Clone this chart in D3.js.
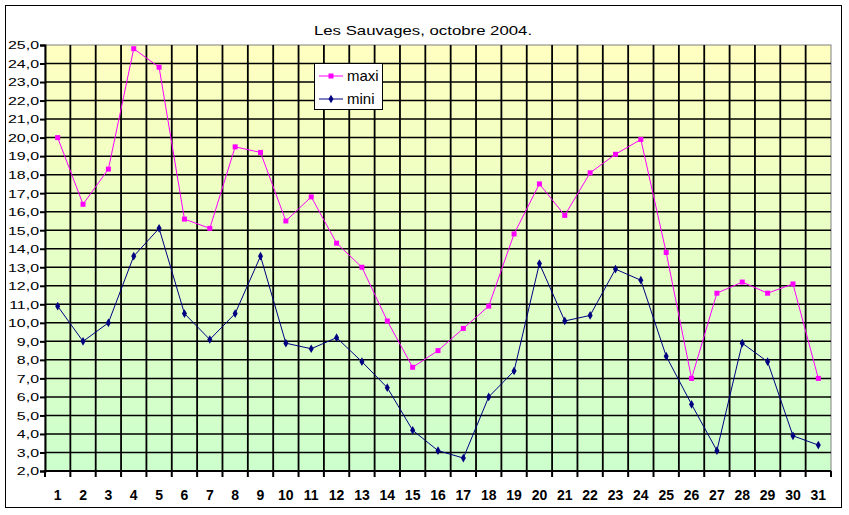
<!DOCTYPE html>
<html>
<head>
<meta charset="utf-8">
<script src="https://cdn.jsdelivr.net/npm/d3@7"></script>
<style>
    body { margin: 0; background: #fff; }
    text { font-family: "Liberation Sans", Arial, sans-serif; fill: #000; }
</style>
</head>
<body>
<div id="chart"></div>
<script>
// data
var days = d3.range(1, 32);
var maxi = [20.0, 16.4, 18.3, 24.8, 23.8, 15.6, 15.1, 19.5, 19.2, 15.5,
            16.8, 14.3, 13.0, 10.1, 7.6, 8.5, 9.7, 10.9, 14.8, 17.5,
            15.8, 18.1, 19.1, 19.9, 13.8, 7.0, 11.6, 12.2, 11.6, 12.1, 7.0];
var mini = [10.9, 9.0, 10.0, 13.6, 15.1, 10.5, 9.1, 10.5, 13.6, 8.9,
            8.6, 9.2, 7.9, 6.5, 4.2, 3.1, 2.7, 6.0, 7.4, 13.2,
            10.1, 10.4, 12.9, 12.3, 8.2, 5.6, 3.1, 8.9, 7.9, 3.9, 3.4];
var yTicks = d3.range(2, 25.01, 1);
var seriesNames = ["maxi", "mini"];
var seriesColors = ["#ff00ff", "#000080"];

var width = 849,
    height = 515;
var plot = {left: 45, top: 45, right: 831, bottom: 471};

const svg = d3.select("#chart").append("svg")
    .attr("width", width)
    .attr("height", height);

// background gradient of the plot area
let defs = svg.append("defs");
let grad = defs.append("linearGradient")
    .attr("id", "bg")
    .attr("x1", 0).attr("y1", 0).attr("x2", 0).attr("y2", 1);
grad.append("stop").attr("offset", "0%").attr("stop-color", "#ffffc0");
grad.append("stop").attr("offset", "100%").attr("stop-color", "#ccffcc");

// outer frame
svg.append("rect")
    .attr("x", 5.5).attr("y", 5.5)
    .attr("width", 836).attr("height", 502)
    .attr("fill", "#fff")
    .attr("stroke", "#000");

const x = d3.scaleBand()
    .domain(days)
    .range([plot.left, plot.right]);

const y = d3.scaleLinear()
    .domain([2, 25])
    .range([plot.bottom, plot.top]);

svg.append("rect")
    .attr("x", plot.left).attr("y", plot.top)
    .attr("width", plot.right - plot.left)
    .attr("height", plot.bottom - plot.top)
    .attr("fill", "url(#bg)")
    .attr("stroke", "#808080");

// horizontal gridlines
svg.append("g")
    .selectAll("line")
    .data(yTicks.slice(1, -1))
    .enter()
    .append("line")
    .attr("x1", plot.left).attr("x2", plot.right)
    .attr("y1", d => y(d)).attr("y2", d => y(d))
    .attr("stroke", "#000")
    .attr("stroke-width", 1.5);

// vertical gridlines, between the days
svg.append("g")
    .selectAll("line")
    .data(days.slice(1))
    .enter()
    .append("line")
    .attr("x1", d => x(d)).attr("x2", d => x(d))
    .attr("y1", plot.top).attr("y2", plot.bottom)
    .attr("stroke", "#000")
    .attr("stroke-width", 1.8);

// y axis
let yAxis = svg.append("g")
    .attr("transform", "translate(" + plot.left + ",0)")
    .call(d3.axisLeft(y).tickValues(yTicks).tickSize(5).tickFormat(d => d3.format(".1f")(d).replace(".", ",")));
yAxis.select(".domain").attr("stroke", "#000").attr("stroke-width", 2);
yAxis.selectAll(".tick line").attr("stroke", "#000").attr("stroke-width", 2);
yAxis.selectAll(".tick text")
    .attr("x", 0)
    .attr("dy", "0.35em")
    .attr("font-size", 11)
    .attr("text-anchor", "end")
    .attr("transform", "translate(-6,0) scale(1.45,1)");

// x axis, ticks between categories
let xAxis = svg.append("g")
    .attr("transform", "translate(0," + plot.bottom + ")");
xAxis.append("line")
    .attr("x1", plot.left - 1).attr("x2", plot.right)
    .attr("stroke", "#000").attr("stroke-width", 2);
xAxis.selectAll("line.tk")
    .data(days.concat([32]))
    .enter()
    .append("line")
    .attr("class", "tk")
    .attr("x1", d => d == 32 ? plot.right : x(d))
    .attr("x2", d => d == 32 ? plot.right : x(d))
    .attr("y1", 0).attr("y2", 6)
    .attr("stroke", "#000").attr("stroke-width", 2);
xAxis.selectAll("text")
    .data(days)
    .enter()
    .append("text")
    .attr("x", d => x(d) + x.bandwidth() / 2)
    .attr("y", 29)
    .attr("text-anchor", "middle")
    .attr("font-size", 14)
    .attr("font-weight", "bold")
    .text(d => d);

// lines and markers
var series = [maxi, mini];
const line = d3.line()
    .x((d, i) => x(days[i]) + x.bandwidth() / 2)
    .y(d => y(d));

series.forEach(function(values, s) {
    svg.append("path")
        .datum(values)
        .attr("fill", "none")
        .attr("stroke", seriesColors[s])
        .attr("stroke-width", 1)
        .attr("d", line);
    svg.append("g")
        .selectAll("path")
        .data(values)
        .enter()
        .append("path")
        .attr("transform", (d, i) => "translate(" + (x(days[i]) + x.bandwidth() / 2) + "," + y(d) + ")")
        .attr("d", d3.symbol().type(s == 0 ? d3.symbolSquare : d3.symbolDiamond).size(s == 0 ? 25 : 22))
        .attr("fill", seriesColors[s]);
});

// title
svg.append("text")
    .attr("transform", "translate(423,35) scale(1.29,1)")
    .attr("text-anchor", "middle")
    .attr("font-size", 13)
    .text("Les Sauvages, octobre 2004.");

// legend
let legend = svg.append("g");
legend.append("rect")
    .attr("x", 314.5).attr("y", 63.5)
    .attr("width", 68).attr("height", 46)
    .attr("fill", "#fff").attr("stroke", "#000");
seriesNames.forEach(function(name, s) {
    let ly = 76 + s * 23;
    legend.append("line")
        .attr("x1", 319).attr("x2", 343)
        .attr("y1", ly).attr("y2", ly)
        .attr("stroke", seriesColors[s]);
    legend.append("path")
        .attr("transform", "translate(331," + ly + ")")
        .attr("d", d3.symbol().type(s == 0 ? d3.symbolSquare : d3.symbolDiamond).size(s == 0 ? 25 : 22))
        .attr("fill", seriesColors[s]);
    legend.append("text")
        .attr("x", 347).attr("y", ly + 5)
        .attr("font-size", 15)
        .text(name);
});
</script>
</body>
</html>
